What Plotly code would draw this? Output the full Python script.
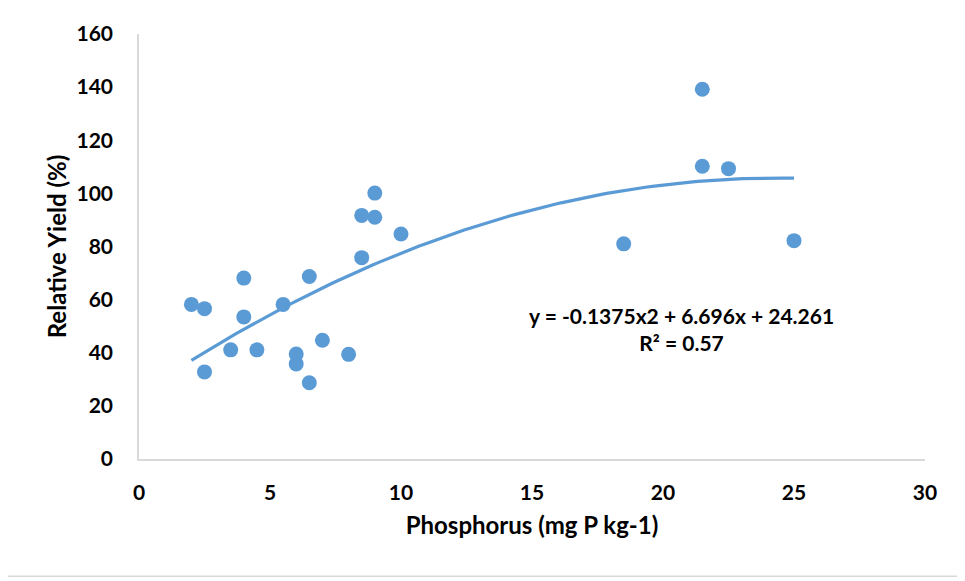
import numpy as np
import plotly.graph_objects as go

# phosphorus (mg P kg-1) and relative yield (%)
phosphorus = [2, 2.5, 2.5, 3.5, 4, 4, 4.5, 5.5, 6, 6, 6.5, 6.5, 7, 8, 8.5, 8.5, 9, 9, 10,
              18.5, 21.5, 21.5, 22.5, 25]
rel_yield = [58.2, 56.6, 32.8, 41.1, 68.1, 53.5, 41.1, 58.2, 39.5, 35.8, 68.7, 28.7, 44.7, 39.4,
             75.8, 91.7, 100.1, 91.0, 84.7, 81.0, 139.2, 110.2, 109.3, 82.2]

# polynomial trendline as printed on the chart
trend_coef = [-0.1375, 6.696, 24.261]
trend_x = np.linspace(min(phosphorus), max(phosphorus), 120)
trend_y = np.polyval(trend_coef, trend_x)

blue = "#5B9BD5"
font_family = "Lato, Carlito, 'Open Sans', sans-serif"

fig = go.Figure()
fig.add_trace(go.Scatter(
    x=phosphorus, y=rel_yield, mode="markers",
    marker=dict(size=15, color=blue), showlegend=False,
))
fig.add_trace(go.Scatter(
    x=trend_x, y=trend_y, mode="lines",
    line=dict(color=blue, width=3.2), showlegend=False,
))

fig.add_annotation(
    x=20.7, y=49, xref="x", yref="y", showarrow=False,
    text="y = -0.1375x2 + 6.696x + 24.261<br>R² = 0.57",
    font=dict(family=font_family, size=21, color="black", weight="bold"),
    align="center",
)

# outer chart border (only right and bottom edges fall inside the page)
fig.add_shape(
    type="rect", xref="paper", yref="paper",
    x0=-0.2, x1=1.048, y0=-0.2757, y1=1.1,
    line=dict(color="#d9d9d9", width=1.5), layer="below",
)

# page body adds an 8px offset, so the figure is 8px smaller than the window
fig.update_layout(
    width=957, height=573,
    margin=dict(l=131, r=40, t=23, b=122),
    plot_bgcolor="white", paper_bgcolor="white",
    font=dict(family=font_family, size=21, color="black", weight="bold"),
    xaxis=dict(
        range=[0, 30], tickvals=[0, 5, 10, 15, 20, 25, 30],
        showgrid=False, zeroline=False, showline=True, linecolor="#d9d9d9", linewidth=1.5,
        ticks="", ticklabelstandoff=14,
        title=dict(text="Phosphorus (mg P kg-1)", standoff=14,
                   font=dict(family=font_family, size=24, weight="bold")),
    ),
    yaxis=dict(
        range=[0, 160], tickvals=list(range(0, 161, 20)),
        showgrid=False, zeroline=False, showline=True, linecolor="#d9d9d9", linewidth=1.5,
        ticks="", ticklabelstandoff=20,
        title=dict(text="Relative Yield (%)", standoff=3,
                   font=dict(family=font_family, size=24, weight="bold")),
    ),
)

fig.write_html("out.html")
